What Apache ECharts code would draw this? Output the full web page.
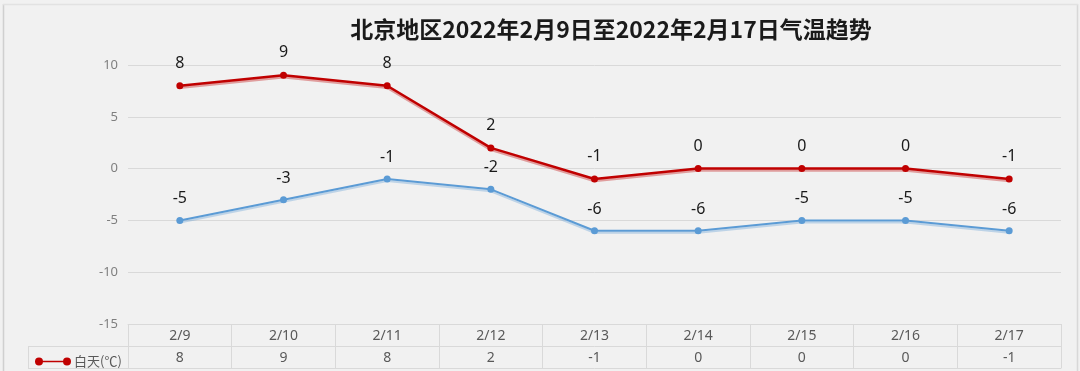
<!DOCTYPE html>
<html>
<head>
<meta charset="utf-8">
<script src="https://cdn.jsdelivr.net/npm/echarts@6/dist/echarts.min.js"></script>
<style>
html,body{margin:0;padding:0;background:#f1f1f1;}
#c{width:1080px;height:371px;}
</style>
</head>
<body>
<div id="c"></div>
<script>
const title = '北京地区2022年2月9日至2022年2月17日气温趋势';
const categories = ['2/9','2/10','2/11','2/12','2/13','2/14','2/15','2/16','2/17'];
const dayName = '白天(℃)';
const nightName = '夜间(℃)';
const dayTemps = [8, 9, 8, 2, -1, 0, 0, 0, -1];
const nightTemps = [-5, -3, -1, -2, -6, -6, -5, -5, -6];
const yTicks = {min: -15, max: 10, interval: 5};

const chart = echarts.init(document.getElementById('c'), null, {renderer: 'canvas'});
const gridColor = '#d9d9d9';
const txt = '#595959';
const numFont = '"Noto Sans", "Open Sans", sans-serif';
const legendIcon = 'path://M0,4 A4,4 0 1,1 8,4 A4,4 0 1,1 0,4 Z M6,3.2 L30,3.2 L30,4.8 L6,4.8 Z M28,4 A4,4 0 1,1 36,4 A4,4 0 1,1 28,4 Z';

chart.setOption({
  backgroundColor: '#f1f1f1',
  animation: false,
  title: {
    text: title,
    left: 606, top: 13, textAlign: 'center',
    textStyle: {fontFamily: '"Noto Sans CJK SC", sans-serif', fontSize: 23, fontWeight: 'bold', color: '#1a1a1a'}
  },
  legend: {
    data: [{name: dayName, icon: legendIcon}],
    left: 30, top: 350, itemWidth: 36, itemHeight: 8, itemGap: 4,
    textStyle: {fontFamily: '"Noto Sans CJK SC", sans-serif', fontSize: 13, color: txt, padding: [0,0,0,-2]}
  },
  grid: {left: 128, right: 19, top: 65, bottom: 47},
  xAxis: [
    {
      type: 'category', data: categories, position: 'bottom', offset: 0, boundaryGap: true,
      axisLine: {show: true, onZero: false, lineStyle: {color: gridColor}},
      axisTick: {show: true, length: 44, alignWithLabel: false, lineStyle: {color: gridColor}},
      axisLabel: {margin: 5, fontSize: 14, color: txt, fontFamily: numFont}
    },
    {
      type: 'category', data: dayTemps.map(String), position: 'bottom', offset: 22, boundaryGap: true,
      axisLine: {show: true, onZero: false, lineStyle: {color: gridColor}},
      axisTick: {show: false},
      axisLabel: {margin: 5, fontSize: 14, color: txt, fontFamily: numFont}
    },
    {
      type: 'category', data: categories, position: 'bottom', offset: 44, boundaryGap: true,
      axisLine: {show: true, onZero: false, lineStyle: {color: gridColor}},
      axisTick: {show: false},
      axisLabel: {show: false}
    }
  ],
  yAxis: {
    type: 'value', min: yTicks.min, max: yTicks.max, interval: yTicks.interval,
    axisLine: {show: false}, axisTick: {show: false},
    axisLabel: {margin: 10, fontSize: 13, color: '#7f7f7f', fontFamily: numFont},
    splitLine: {lineStyle: {color: gridColor}}
  },
  graphic: [
    {type: 'line', shape: {x1: 28, y1: 346.5, x2: 128, y2: 346.5}, style: {stroke: gridColor, lineWidth: 1}},
    {type: 'line', shape: {x1: 28, y1: 368.5, x2: 128, y2: 368.5}, style: {stroke: gridColor, lineWidth: 1}},
    {type: 'line', shape: {x1: 28.5, y1: 346, x2: 28.5, y2: 369}, style: {stroke: gridColor, lineWidth: 1}},
    {type: 'line', shape: {x1: 3.5, y1: 4, x2: 3.5, y2: 371}, style: {stroke: '#d0d0d0', lineWidth: 1.5}},
    {type: 'line', shape: {x1: 1077.5, y1: 4, x2: 1077.5, y2: 371}, style: {stroke: '#d8d8d8', lineWidth: 1.5}},
    {type: 'line', shape: {x1: 3, y1: 4.5, x2: 1078, y2: 4.5}, style: {stroke: '#e2e2e2', lineWidth: 1.5}}
  ],
  series: [
    {
      name: dayName, type: 'line', data: dayTemps, xAxisIndex: 0,
      symbol: 'circle', symbolSize: 7,
      itemStyle: {color: '#c00000'},
      lineStyle: {width: 2.5, color: '#c00000', shadowColor: 'rgba(192,0,0,0.35)', shadowOffsetY: 2, shadowBlur: 0},
      label: {show: true, position: 'top', distance: 11, fontSize: 16, color: '#1a1a1a', fontFamily: numFont}
    },
    {
      name: nightName, type: 'line', data: nightTemps, xAxisIndex: 0,
      symbol: 'circle', symbolSize: 7,
      itemStyle: {color: '#5b9bd5'},
      lineStyle: {width: 2, color: '#5b9bd5', shadowColor: 'rgba(91,155,213,0.35)', shadowOffsetY: 2, shadowBlur: 0},
      label: {show: true, position: 'top', distance: 10, fontSize: 16, color: '#1a1a1a', fontFamily: numFont}
    }
  ]
});
</script>
</body>
</html>
